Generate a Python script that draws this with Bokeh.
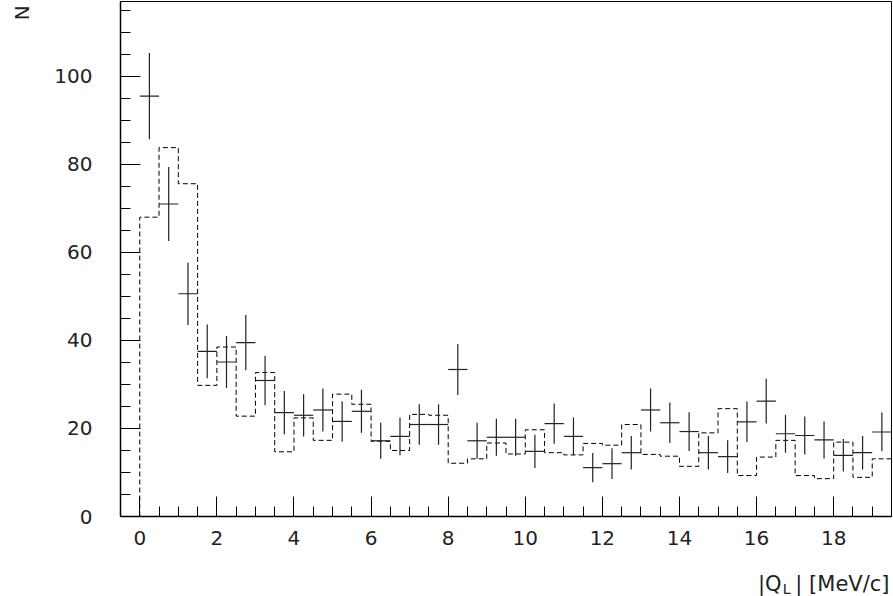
import numpy as np
from bokeh.plotting import figure
from bokeh.layouts import column, row
from bokeh.models import Range1d, SingleIntervalTicker, Label, ColumnDataSource
from bokeh.embed import file_html
from bokeh.resources import INLINE

# Bin edges (|Q_L| in MeV/c), width 0.5
bin_edges = [i * 0.5 for i in range(40)]

# Measured data points (counts) and their errors
data_counts = [95.5, 71.0, 50.6, 37.5, 35.1, 39.5, 30.9, 23.6, 23.0, 24.2,
               21.6, 23.9, 17.2, 18.2, 20.9, 20.9, 33.4, 17.2, 18.0, 18.0,
               14.8, 21.1, 18.2, 11.1, 12.0, 14.5, 24.2, 21.3, 19.3, 14.5,
               13.6, 21.5, 26.2, 18.8, 18.4, 17.4, 13.9, 14.5, 19.2]
data_errors = [9.8, 8.4, 7.1, 6.1, 5.9, 6.3, 5.6, 4.9, 4.8, 4.9,
               4.6, 4.9, 4.1, 4.3, 4.6, 4.6, 5.8, 4.1, 4.2, 4.2,
               3.8, 4.6, 4.3, 3.3, 3.5, 3.8, 4.9, 4.6, 4.4, 3.8,
               3.7, 4.6, 5.1, 4.3, 4.3, 4.2, 3.7, 3.8, 4.4]

# Dashed histogram (simulation)
sim_counts = [68.0, 83.8, 75.6, 29.8, 38.5, 22.8, 32.7, 14.7, 22.4, 17.3,
              27.8, 25.5, 17.1, 15.0, 23.2, 23.0, 12.1, 13.1, 16.7, 14.2,
              19.7, 14.5, 14.0, 16.6, 16.2, 20.9, 14.1, 13.7, 11.4, 19.0,
              24.5, 9.3, 13.5, 17.3, 9.3, 8.6, 16.9, 8.9, 13.1]

x_ticks_major = 2
y_ticks_major = 20
y_title = "N"
x_title_parts = ["|Q", "L", "| [MeV/c]"]

FONT = "DejaVu Sans"
TXT = "#222222"


def blank_strip(w, h):
    f = figure(width=w, height=h, output_backend="svg", toolbar_location=None,
               x_range=Range1d(0, w), y_range=Range1d(0, h),
               x_axis_location=None, y_axis_location=None,
               min_border=0, min_border_left=0, min_border_right=0,
               min_border_top=0, min_border_bottom=0)
    f.xgrid.visible = False
    f.ygrid.visible = False
    f.outline_line_color = None
    f.background_fill_color = "white"
    f.border_fill_color = "white"
    return f


p = figure(width=853, height=556, output_backend="svg", toolbar_location=None,
           x_range=Range1d(-0.5, 19.5), y_range=Range1d(0, 117),
           min_border_left=80, min_border_right=2, min_border_top=1,
           min_border_bottom=40)
p.xgrid.visible = False
p.ygrid.visible = False
p.outline_line_color = "black"
p.outline_line_width = 1
p.background_fill_color = "white"
p.border_fill_color = "white"

for ax, ticker in ((p.xaxis[0], SingleIntervalTicker(interval=x_ticks_major, num_minor_ticks=4)),
                   (p.yaxis[0], SingleIntervalTicker(interval=y_ticks_major, num_minor_ticks=4))):
    ax.ticker = ticker
    ax.major_tick_in = 20
    ax.major_tick_out = 0
    ax.minor_tick_in = 10
    ax.minor_tick_out = 0
    ax.axis_line_color = "black"
    ax.axis_line_width = 1.5
    ax.major_tick_line_color = "black"
    ax.minor_tick_line_color = "black"
    ax.major_label_text_font = FONT
    ax.major_label_text_font_size = "20px"
    ax.major_label_text_color = TXT

p.yaxis[0].major_label_standoff = 28
p.xaxis[0].major_label_standoff = 14

# Step path of the dashed histogram
edges = np.array(bin_edges)
sim = np.array(sim_counts)
hx = [edges[0]]
hy = [0.0]
for i, v in enumerate(sim):
    hx += [edges[i], edges[i + 1]]
    hy += [v, v]
p.line(hx, hy, line_color="black", line_width=1, line_dash="5 3")

# Data points with error bars
centers = (edges[:-1] + edges[1:]) / 2
cnt = np.array(data_counts)
err = np.array(data_errors)
src = ColumnDataSource(dict(xc=centers, lo=edges[:-1], hi=edges[1:],
                            y=cnt, ylo=cnt - err, yhi=cnt + err))
p.segment(x0="xc", x1="xc", y0="ylo", y1="yhi", source=src, line_color=TXT, line_width=1.2)
p.segment(x0="lo", x1="hi", y0="y", y1="y", source=src, line_color=TXT, line_width=1.2)

# Left strip carrying the y-axis title (rotated, at the top)
pn = blank_strip(40, 556)
pn.add_layout(Label(x=21, y=552, text=y_title, angle=np.pi / 2, text_align="right",
                    text_baseline="middle", text_font=FONT, text_font_size="20px",
                    text_color=TXT))

# Strip below the chart carrying the x-axis title (with subscript)
p2 = blank_strip(893, 40)
p2.add_layout(Label(x=889, y=13, text=x_title_parts[2], text_align="right",
                    text_baseline="middle", text_font=FONT, text_font_size="21px",
                    text_color=TXT))
p2.add_layout(Label(x=790, y=7.5, text=x_title_parts[1], text_align="right",
                    text_baseline="middle", text_font=FONT, text_font_size="14px",
                    text_color=TXT))
p2.add_layout(Label(x=781, y=13, text=x_title_parts[0], text_align="right",
                    text_baseline="middle", text_font=FONT, text_font_size="21px",
                    text_color=TXT))

layout = column(row(pn, p, spacing=0), p2, spacing=0)
open("out.html", "w").write(file_html(layout, INLINE))
